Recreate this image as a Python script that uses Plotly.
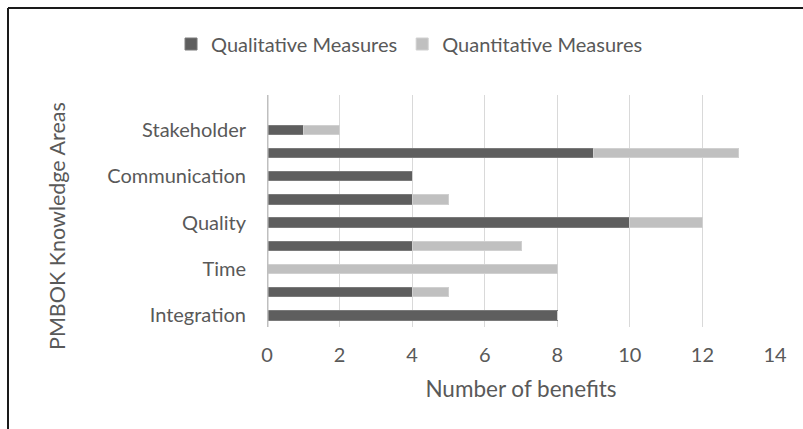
import plotly.graph_objects as go

# PMBOK knowledge areas, bottom to top
areas = ["Integration", "Scope", "Time", "Cost", "Quality", "Human Resource",
         "Communication", "Risk", "Stakeholder", "Procurement"]
qualitative = [8, 4, 0, 4, 10, 4, 4, 9, 1, 0]
quantitative = [0, 1, 8, 3, 2, 1, 0, 4, 1, 0]
labelled_areas = ["Integration", "Time", "Quality", "Communication", "Stakeholder"]
x_ticks = [0, 2, 4, 6, 8, 10, 12, 14]

W, H = 803, 429
L, R, T, B = 267, 28, 95, 102
pw, ph = W - L - R, H - T - B

def px_x(p):
    return (p - L) / pw

def px_y(p):
    return (H - B - p) / ph

FONT = "Lato"
TXT = "#595959"

fig = go.Figure()
fig.add_trace(go.Bar(
    y=areas, x=qualitative, orientation="h", name="Qualitative Measures",
    width=0.41,
    marker=dict(color="#5e5e5e", line=dict(color="#7a7a7a", width=1)),
))
fig.add_trace(go.Bar(
    y=areas, x=quantitative, orientation="h", name="Quantitative Measures",
    width=0.41,
    marker=dict(color="#c0c0c0", line=dict(color="#d0d0d0", width=1)),
))

fig.update_layout(
    width=W, height=H, barmode="stack",
    margin=dict(l=L, r=R, t=T, b=B),
    paper_bgcolor="white", plot_bgcolor="white",
    font=dict(family=FONT, color=TXT, size=20),
    showlegend=True,
    legend=dict(orientation="h", xref="container", yref="container",
                x=0.51, xanchor="center", y=1 - 44 / H, yanchor="middle",
                font=dict(size=20, color=TXT), traceorder="normal",
                itemwidth=30),
    xaxis=dict(range=[0, 14], tickvals=x_ticks, showgrid=True,
               gridcolor="#d9d9d9", gridwidth=1, zeroline=False,
               showline=False, ticks="", tickfont=dict(size=20, color=TXT),
               ticklabelstandoff=14,
               title=dict(text="Number of benefits", font=dict(size=22.5, color=TXT),
                          standoff=16)),
    yaxis=dict(type="category", categoryorder="array", categoryarray=areas,
               range=[-0.5, 9.5], tickvals=labelled_areas, ticks="",
               showgrid=False, showline=False,
               tickfont=dict(size=20, color=TXT), ticklabelstandoff=20),
    annotations=[dict(text="PMBOK Knowledge Areas", textangle=-90,
                      xref="paper", yref="paper", x=px_x(57), y=px_y(226),
                      xanchor="center", yanchor="middle", showarrow=False,
                      font=dict(size=21.5, color=TXT))],
    shapes=[
        # category axis line at zero
        dict(type="line", xref="x", yref="paper", x0=0, x1=0, y0=0, y1=1,
             layer="above", line=dict(color="#bfbfbf", width=3)),
        # outer frame (top and left edges)
        dict(type="line", xref="paper", yref="paper", x0=px_x(8), x1=px_x(W + 5),
             y0=px_y(8), y1=px_y(8), line=dict(color="#1a1a1a", width=2)),
        dict(type="line", xref="paper", yref="paper", x0=px_x(8), x1=px_x(8),
             y0=px_y(8), y1=px_y(H + 5), line=dict(color="#1a1a1a", width=2)),
    ],
)

fig.write_html("out.html")
